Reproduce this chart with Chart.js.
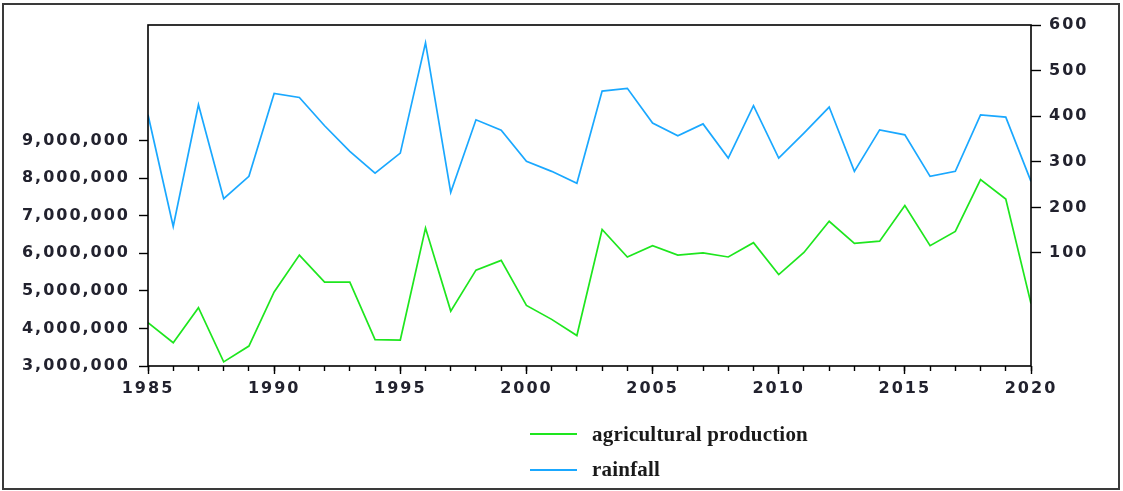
<!DOCTYPE html>
<html>
<head>
<meta charset="utf-8">
<script src="https://cdn.jsdelivr.net/npm/chart.js@4"></script>
<style>
  html, body { margin: 0; padding: 0; background: #fff; }
  #wrap { position: relative; width: 1123px; height: 491px; overflow: hidden; background: #fff; }
  #frame { position: absolute; left: 2px; top: 3px; width: 1118px; height: 487px; box-sizing: border-box; border: 2px solid #3a3a3a; pointer-events: none; }
  .leg { position: absolute; left: 530px; font: bold 21px "Liberation Serif", serif; letter-spacing: 0.2px; color: #1a1a1a; white-space: nowrap; }
  .leg .sw { position: absolute; left: 0; width: 47px; height: 0; border-top: 2px solid; }
  .leg .tx { position: absolute; left: 62px; line-height: 22px; }
</style>
</head>
<body>
<div id="wrap">
  <canvas id="c" width="1123" height="491"></canvas>
  <div class="leg" style="top:423px"><span class="sw" style="top:10px;border-color:#1ee61e"></span><span class="tx" style="top:0">agricultural production</span></div>
  <div class="leg" style="top:458px"><span class="sw" style="top:11px;border-color:#1aa8ff"></span><span class="tx" style="top:0">rainfall</span></div>
  <div id="frame"></div>
</div>
<script>
const years = [1985,1986,1987,1988,1989,1990,1991,1992,1993,1994,1995,1996,1997,1998,1999,2000,2001,2002,2003,2004,2005,2006,2007,2008,2009,2010,2011,2012,2013,2014,2015,2016,2017,2018,2019,2020];
const agriculturalProduction = [4150000,3620000,4550000,3110000,3530000,4970000,5950000,5230000,5230000,3700000,3690000,6670000,4460000,5550000,5810000,4610000,4240000,3810000,6630000,5900000,6200000,5950000,6010000,5900000,6280000,5430000,6020000,6850000,6260000,6320000,7270000,6200000,6580000,7960000,7440000,4660000];
const rainfall = [403,158,425,219,268,450,441,379,323,275,319,561,233,392,369,301,279,253,455,461,385,357,383,308,423,308,363,420,279,370,359,268,279,403,398,257];
const xLabelTicks = [1985,1990,1995,2000,2005,2010,2015,2020];
const leftTicks = [3000000,4000000,5000000,6000000,7000000,8000000,9000000];
const rightTicks = [100,200,300,400,500,600];
const leftRange = [3000000, 12070000];
const rightRange = [-148, 600];

const tickFont = { family: 'DejaVu Sans', size: 16, weight: 'bold' };
const tickColor = '#22222e';

const spacingPlugin = {
  id: 'spacing',
  beforeLayout(chart) { chart.ctx.letterSpacing = '2px'; },
  beforeDraw(chart) { chart.ctx.letterSpacing = '2px'; }
};
const boxPlugin = {
  id: 'box',
  afterDraw(chart) {
    const a = chart.chartArea, ctx = chart.ctx;
    ctx.save();
    ctx.strokeStyle = '#000';
    ctx.lineWidth = 1.6;
    ctx.strokeRect(a.left, a.top, a.right - a.left, a.bottom - a.top);
    ctx.restore();
  }
};
const setTicks = arr => scale => { scale.ticks = arr.map(v => ({ value: v })); };

new Chart(document.getElementById('c'), {
  type: 'line',
  data: {
    datasets: [
      { label: 'agricultural production', data: years.map((y, i) => ({ x: y, y: agriculturalProduction[i] })), yAxisID: 'y', xAxisID: 'x',
        borderColor: '#1ee61e', borderWidth: 1.7, pointRadius: 0, tension: 0, fill: false },
      { label: 'rainfall', data: years.map((y, i) => ({ x: y, y: rainfall[i] })), yAxisID: 'y1', xAxisID: 'x',
        borderColor: '#1aa8ff', borderWidth: 1.7, pointRadius: 0, tension: 0, fill: false }
    ]
  },
  options: {
    responsive: false,
    animation: false,
    devicePixelRatio: 1,
    layout: { padding: { top: 25, left: 0, right: 0, bottom: 0 } },
    plugins: { legend: { display: false }, tooltip: { enabled: false } },
    scales: {
      xMinor: {
        type: 'linear', position: 'bottom', weight: 0, min: 1985, max: 2020,
        afterBuildTicks: setTicks(years),
        afterFit: s => { s.height = 0; },
        ticks: { display: false },
        grid: { drawOnChartArea: false, drawTicks: true, tickLength: 5, tickColor: '#000', tickWidth: 1.4 },
        border: { display: false }
      },
      x: {
        type: 'linear', position: 'bottom', weight: 1, min: 1985, max: 2020,
        afterBuildTicks: setTicks(xLabelTicks),
        afterFit: s => { s.height = 125; },
        ticks: { autoSkip: false, maxRotation: 0, font: tickFont, color: tickColor, padding: 5, callback: v => String(v) },
        grid: { drawOnChartArea: false, drawTicks: true, tickLength: 8, tickColor: '#000', tickWidth: 1.4 },
        border: { display: false }
      },
      y: {
        type: 'linear', position: 'left', min: leftRange[0], max: leftRange[1],
        afterBuildTicks: setTicks(leftTicks),
        afterFit: s => { s.width = 148; },
        ticks: { font: tickFont, color: tickColor, padding: 9, callback: v => Number(v).toLocaleString('en-US') },
        grid: { drawOnChartArea: false, drawTicks: true, tickLength: 9, tickColor: '#000', tickWidth: 1.4 },
        border: { display: false }
      },
      y1: {
        type: 'linear', position: 'right', min: rightRange[0], max: rightRange[1],
        afterBuildTicks: setTicks(rightTicks),
        afterFit: s => { s.width = 92; },
        ticks: { font: tickFont, color: tickColor, padding: 8, callback: v => String(v) },
        grid: { drawOnChartArea: false, drawTicks: true, tickLength: 10, tickColor: '#000', tickWidth: 1.4 },
        border: { display: false }
      }
    }
  },
  plugins: [spacingPlugin, boxPlugin]
});
</script>
</body>
</html>
